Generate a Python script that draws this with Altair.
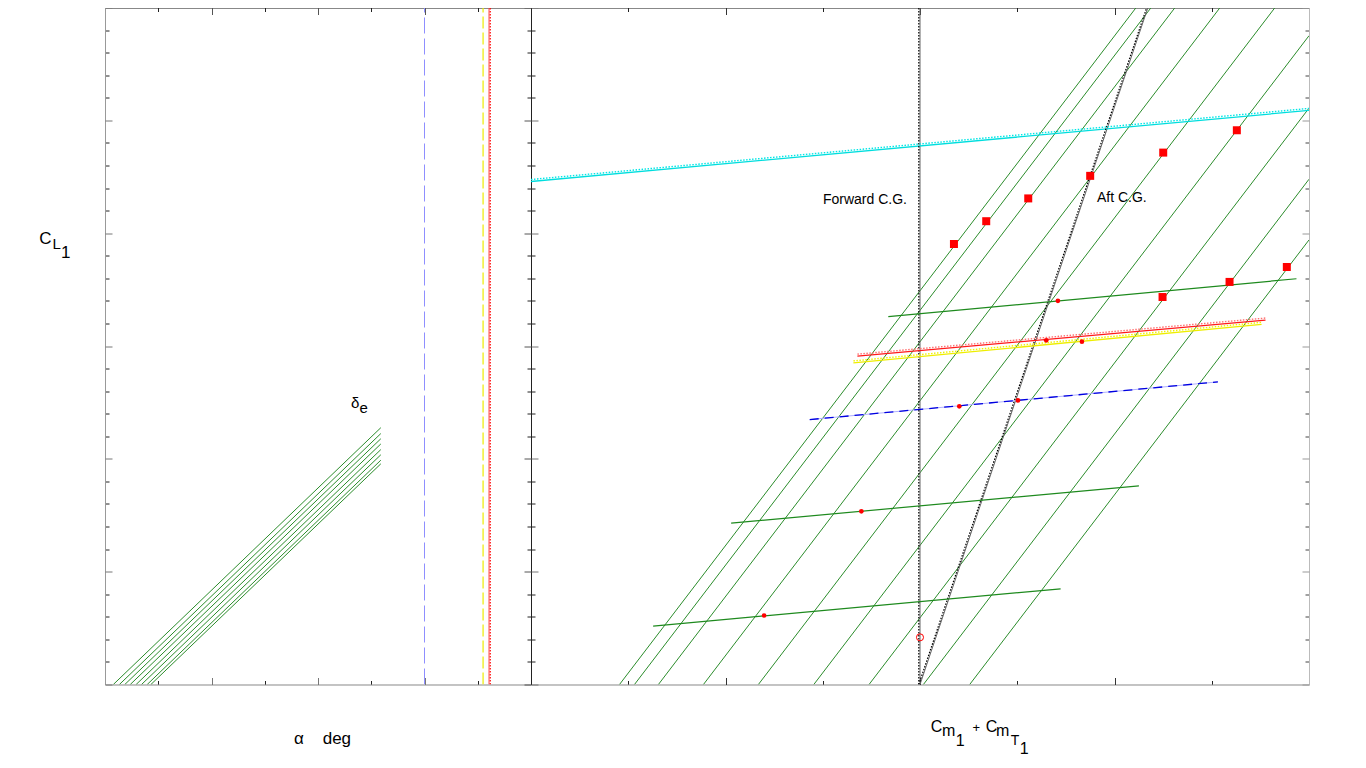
import altair as alt
import pandas as pd

# ---------------- values ----------------
# Left panel: C_L1 versus alpha, one line per elevator deflection (delta_e)
de_ids = ["d1", "d2", "d3", "d4", "d5", "d6", "d7", "d8"]
de_alpha_start = [-9.22, -8.65, -8.14, -7.63, -7.08, -6.57, -6.04, -5.69]
de_cl_start = [0.0, 0.0, 0.0, 0.0, 0.0, 0.0, 0.0, 0.0]
de_alpha_end = [15.9, 15.9, 15.9, 15.9, 15.9, 15.9, 15.9, 15.9]
de_cl_end = [1.138, 1.112, 1.089, 1.066, 1.041, 1.018, 0.994, 0.978]

# vertical alpha limits in the left panel
alpha_blue = [20.0, 20.0]
alpha_yellow = [25.5, 25.5]
alpha_red = [26.06, 26.06]
cl_full = [0.0, 3.0]

# Right panel: trim lines (constant delta_e), C_L1 versus Cm1 + CmT1
trim_ids = ["t1", "t2", "t3", "t4", "t5", "t6", "t7", "t8", "t9"]
trim_cm_start = [-0.309, -0.2936, -0.269, -0.2227, -0.1662, -0.1092, -0.0524, 0.0035, 0.0511]
trim_cl_start = [0.0, 0.0, 0.0, 0.0, 0.0, 0.0, 0.0, 0.0, 0.0]
trim_cm_end = [0.2223, 0.2377, 0.2623, 0.3086, 0.3651, 0.4, 0.4, 0.4, 0.4]
trim_cl_end = [3.0, 3.0, 3.0, 3.0, 3.0, 2.875, 2.554, 2.239, 1.970]

# constant-alpha lines
green_ids = ["g1", "g2", "g3"]
green_cm_start = [-0.2744, -0.1942, -0.0326]
green_cl_start = [0.2588, 0.7149, 1.630]
green_cm_end = [0.1446, 0.2251, 0.3871]
green_cl_end = [0.4241, 0.8803, 1.798]

blue_cm = [-0.1134, 0.3063]
blue_cl = [1.174, 1.341]
yellow_cm = [-0.0685, 0.3512]
yellow_cl = [1.425, 1.596]
red_cm = [-0.0644, 0.3553]
red_cl = [1.455, 1.615]
cyan_cm = [-0.4, 0.4]
cyan_cl = [2.229, 2.544]

# centre of gravity lines
fwd_cg_cm = [0.0, 0.0]
fwd_cg_cl = [0.0, 3.0]
aft_cg_cm = [0.0, 0.2344]
aft_cg_cl = [0.0, 3.0]

# markers
square_cm = [0.0349, 0.0681, 0.1113, 0.1750, 0.2501, 0.3258, 0.2494, 0.3183, 0.3772]
square_cl = [1.952, 2.053, 2.154, 2.254, 2.357, 2.456, 1.717, 1.784, 1.850]
dot_cm = [-0.1603, -0.0603, 0.0404, 0.1007, 0.1298, 0.1665, 0.1418]
dot_cl = [0.3057, 0.7675, 1.2325, 1.2588, 1.525, 1.519, 1.700]
ring_cm = [0.0]
ring_cl = [0.209]

# tick positions (no labels are shown)
alpha_major = [-10, 0, 10, 20, 30]
alpha_minor = [-5, 5, 15, 25]
cm_major = [-0.4, -0.2, 0.0, 0.2, 0.4]
cm_minor = [-0.3, -0.1, 0.1, 0.3]
cl_major = [0.0, 0.5, 1.0, 1.5, 2.0, 2.5, 3.0]
cl_minor = [0.1, 0.2, 0.3, 0.4, 0.6, 0.7, 0.8, 0.9, 1.1, 1.2, 1.3, 1.4, 1.6, 1.7, 1.8, 1.9,
            2.1, 2.2, 2.3, 2.4, 2.6, 2.7, 2.8, 2.9]

# ---------------- layout ----------------
W_L, W_R, H = 426, 778, 677
FONT = "Liberation Sans"

y_scale = alt.Scale(domain=[0, 3.0], nice=False, zero=False)
xa_scale = alt.Scale(domain=[-10, 30], nice=False, zero=False)
xc_scale = alt.Scale(domain=[-0.4, 0.4], nice=False, zero=False)


def seg_df(ids, x0, y0, x1, y1):
    rows = []
    for i, a, b, c, d in zip(ids, x0, y0, x1, y1):
        rows.append({"id": i, "o": 0, "x": a, "y": b})
        rows.append({"id": i, "o": 1, "x": c, "y": d})
    return pd.DataFrame(rows)


def line_df(name, xs, ys):
    return pd.DataFrame({"id": [name] * len(xs), "o": list(range(len(xs))), "x": xs, "y": ys})


def ax(orient, offset, values, size, tcolor, domain, dcolor="#222"):
    kw = dict(orient=orient, offset=offset, values=values, labels=False, title=None,
              grid=False, ticks=True, tickSize=size, tickColor=tcolor, tickWidth=1,
              domain=domain, minExtent=0)
    if domain:
        kw["domainColor"] = dcolor
        kw["domainWidth"] = 1
    return alt.Axis(**kw)


def lines(df, xscale, color, width=1.0, dash=None, xoff=0, yoff=0, xaxis=None, yaxis=None):
    kw = dict(color=color, strokeWidth=width, clip=True, opacity=1)
    if dash:
        kw["strokeDash"] = dash
    if xoff:
        kw["xOffset"] = xoff
    if yoff:
        kw["yOffset"] = yoff
    return alt.Chart(df).mark_line(**kw).encode(
        x=alt.X("x:Q", scale=xscale, axis=xaxis),
        y=alt.Y("y:Q", scale=y_scale, axis=yaxis),
        detail="id:N",
        order="o:Q",
    )


one = pd.DataFrame({"k": [0]})


def glyph(text, x, y, size):
    return alt.Chart(one).mark_text(text=text, font=FONT, fontSize=size, align="left",
                                    baseline="alphabetic", color="black").encode(
        x=alt.value(x), y=alt.value(y))


# ---------------- left panel ----------------
de_df = seg_df(de_ids, de_alpha_start, de_cl_start, de_alpha_end, de_cl_end)
left_layers = [
    lines(de_df, xa_scale, "#2b8c2b", 1.0,
          xaxis=ax("top", -H, alpha_minor, 4, "#222", True, "#999"),
          yaxis=ax("right", -W_L, cl_minor, 4, "#222", True, "#999")),
    lines(line_df("b", alpha_blue, cl_full), xa_scale, "#8f8fff", 1.0, dash=[16, 5],
          xaxis=ax("bottom", -H, alpha_minor, 4, "#222", True, "#222"),
          yaxis=ax("left", -W_L, cl_minor, 4, "#222", True, "#222")),
    lines(line_df("y", alpha_yellow, cl_full), xa_scale, "#ecec00", 1.2, dash=[12, 4],
          xaxis=ax("top", -H, alpha_major, 7, "#777", False),
          yaxis=ax("right", -W_L, cl_major, 7, "#777", False)),
    lines(line_df("r", alpha_red, cl_full), xa_scale, "#ff4040", 1.0,
          xaxis=ax("bottom", -H, alpha_major, 7, "#555", False),
          yaxis=ax("left", -W_L, cl_major, 7, "#555", False)),
    lines(line_df("r2", alpha_red, cl_full), xa_scale, "#ff0000", 1.2, dash=[1.5, 1.5], xoff=1.2),
    alt.Chart(one).mark_text(text="\u03b4", font=FONT, fontSize=15, align="left",
                             baseline="alphabetic", color="black").encode(
        x=alt.X("a:Q", scale=xa_scale, axis=None), y=alt.Y("c:Q", scale=y_scale, axis=None)
    ).transform_calculate(a="13.1", c="1.224"),
    alt.Chart(one).mark_text(text="e", font=FONT, fontSize=15, align="left", dx=8.5, dy=4.5,
                             baseline="alphabetic", color="black").encode(
        x=alt.X("a:Q", scale=xa_scale, axis=None), y=alt.Y("c:Q", scale=y_scale, axis=None)
    ).transform_calculate(a="13.1", c="1.224"),
    glyph("C", -65.7, 236, 17),
    glyph("L", -52.6, 241, 15),
    glyph("1", -44, 250, 17),
    glyph("\u03b1", 189, 736, 17),
    glyph("deg", 217.7, 736, 17),
]
left = alt.layer(*left_layers).properties(width=W_L, height=H).resolve_axis(
    x="independent", y="independent")

# ---------------- right panel ----------------
trim_df = seg_df(trim_ids, trim_cm_start, trim_cl_start, trim_cm_end, trim_cl_end)
green_df = seg_df(green_ids, green_cm_start, green_cl_start, green_cm_end, green_cl_end)
sq_df = pd.DataFrame({"x": square_cm, "y": square_cl})
dot_df = pd.DataFrame({"x": dot_cm, "y": dot_cl})
ring_df = pd.DataFrame({"x": ring_cm, "y": ring_cl})
lbl_df = pd.DataFrame({"x": [-0.0134, 0.1819], "y": [2.149, 2.154],
                       "t": ["Forward C.G.", "Aft C.G."], "al": ["r", "l"]})


def pts(df, mark):
    return alt.Chart(df).mark_point(**mark).encode(
        x=alt.X("x:Q", scale=xc_scale, axis=None), y=alt.Y("y:Q", scale=y_scale, axis=None))


right_layers = [
    lines(trim_df, xc_scale, "#2b8c2b", 1.0,
          xaxis=ax("top", -H, cm_minor, 4, "#222", True, "#999"),
          yaxis=ax("right", -W_R, cl_minor, 4, "#222", True, "#222")),
    lines(line_df("f", fwd_cg_cm, fwd_cg_cl), xc_scale, "#666", 1.0,
          xaxis=ax("bottom", -H, cm_minor, 4, "#222", True, "#222"),
          yaxis=ax("left", -W_R, cl_minor, 4, "#444", True, "#bbb")),
    lines(line_df("a", aft_cg_cm, aft_cg_cl), xc_scale, "#666", 1.0,
          xaxis=ax("top", -H, cm_major, 7, "#333", False),
          yaxis=ax("right", -W_R, cl_major, 7, "#777", False)),
    lines(line_df("c", cyan_cm, cyan_cl), xc_scale, "#00dede", 1.3,
          xaxis=ax("bottom", -H, cm_major, 7, "#333", False),
          yaxis=ax("left", -W_R, cl_major, 7, "#999", False)),
    lines(line_df("f2", fwd_cg_cm, fwd_cg_cl), xc_scale, "#000", 1.2, dash=[1.5, 1.5], xoff=-1.2),
    lines(line_df("a2", aft_cg_cm, aft_cg_cl), xc_scale, "#000", 1.2, dash=[1.5, 1.5], xoff=-1.2),
    lines(line_df("c2", cyan_cm, cyan_cl), xc_scale, "#00e6e6", 1.4, dash=[1.5, 1.5], yoff=-2),
    lines(green_df, xc_scale, "#1e8a1e", 1.2),
    lines(line_df("bl", blue_cm, blue_cl), xc_scale, "#b0b0ff", 1.0),
    lines(line_df("bl2", blue_cm, blue_cl), xc_scale, "#0000e0", 1.3, dash=[9, 6]),
    lines(line_df("ye", yellow_cm, yellow_cl), xc_scale, "#eeee00", 1.4),
    lines(line_df("ye2", yellow_cm, yellow_cl), xc_scale, "#f2f200", 1.4, dash=[1.5, 1.5], yoff=-2),
    lines(line_df("re", red_cm, red_cl), xc_scale, "#ff1a1a", 1.3),
    lines(line_df("re2", red_cm, red_cl), xc_scale, "#ff7070", 1.4, dash=[1.5, 1.5], yoff=-2),
    pts(sq_df, dict(shape="square", size=64, filled=True, color="#ff0000", opacity=1)),
    pts(dot_df, dict(shape="circle", size=22, filled=True, color="#ff0000", opacity=1)),
    pts(ring_df, dict(shape="circle", size=50, filled=False, color="#ff0000", strokeWidth=1,
                      opacity=1)),
    alt.Chart(lbl_df).transform_filter("datum.al == 'r'").mark_text(
        font=FONT, fontSize=14, align="right", baseline="middle", color="black").encode(
        x=alt.X("x:Q", scale=xc_scale, axis=None), y=alt.Y("y:Q", scale=y_scale, axis=None),
        text="t:N"),
    alt.Chart(lbl_df).transform_filter("datum.al == 'l'").mark_text(
        font=FONT, fontSize=14, align="left", baseline="middle", color="black").encode(
        x=alt.X("x:Q", scale=xc_scale, axis=None), y=alt.Y("y:Q", scale=y_scale, axis=None),
        text="t:N"),
    glyph("C", 399.7, 724.7, 16),
    glyph("m", 411, 728, 16),
    glyph("1", 424.7, 738.7, 16),
    glyph("+", 441.5, 724, 13),
    glyph("C", 454.7, 724.7, 16),
    glyph("m", 465, 728, 16),
    glyph("T", 479.7, 737, 14),
    glyph("1", 488.7, 746, 16),
]
right = alt.layer(*right_layers).properties(width=W_R, height=H).resolve_axis(
    x="independent", y="independent")

chart = alt.hconcat(left, right, spacing=0, bounds="flush").properties(
    padding={"left": 30, "top": -1.5, "right": 10, "bottom": 5}
).configure_view(stroke=None).configure(background="white")

chart.save("out.html", embed_options={"renderer": "svg", "actions": False})
